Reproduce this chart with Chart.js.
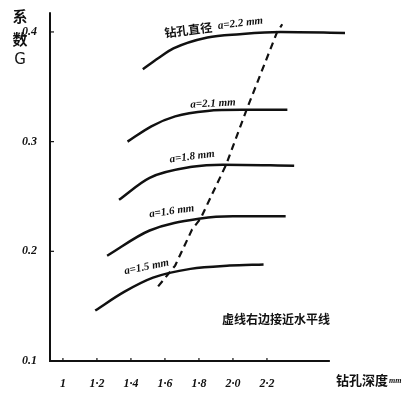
<!DOCTYPE html>
<html>
<head>
<meta charset="utf-8">
<script src="https://cdn.jsdelivr.net/npm/chart.js@4"></script>
<style>
  html, body { margin: 0; padding: 0; background: #fff; }
  #wrap { width: 405px; height: 393px; }
</style>
</head>
<body>
<div id="wrap"><canvas id="gChart"></canvas></div>
<script>
// tick labels
const xTicks = [1, 1.2, 1.4, 1.6, 1.8, 2.0, 2.2];
const xTickLabels = ["1", "1·2", "1·4", "1·6", "1·8", "2·0", "2·2"];
const yTicks = [0.1, 0.2, 0.3, 0.4];
const yTickLabels = ["0.1", "0.2", "0.3", "0.4"];

// curves: drilling depth (mm) vs coefficient G, one per drill diameter
const depth22 = [1.47, 1.56, 1.65, 1.85, 2.04, 2.28, 2.66];
const g22     = [0.366, 0.376, 0.385, 0.395, 0.398, 0.400, 0.399];
const depth21 = [1.38, 1.52, 1.66, 1.85, 2.05, 2.32];
const g21     = [0.300, 0.314, 0.323, 0.328, 0.329, 0.329];
const depth18 = [1.33, 1.51, 1.76, 1.94, 2.36];
const g18     = [0.247, 0.267, 0.277, 0.279, 0.278];
const depth16 = [1.26, 1.51, 1.81, 2.0, 2.31];
const g16     = [0.196, 0.219, 0.230, 0.232, 0.232];
const depth15 = [1.19, 1.36, 1.53, 1.75, 1.98, 2.18];
const g15     = [0.146, 0.163, 0.176, 0.184, 0.187, 0.188];

// dashed line through the knees
const depthDash = [1.56, 1.66, 1.76, 1.81, 1.96, 2.08, 2.26, 2.29];
const gDash     = [0.168, 0.187, 0.220, 0.230, 0.279, 0.329, 0.400, 0.407];

// curve labels: text, anchor depth, anchor G, rotation
const curveLabels = ["a=2.1 mm", "a=1.8 mm", "a=1.6 mm", "a=1.5 mm"];
const labelDepth = [1.75, 1.63, 1.51, 1.365];
const labelG = [0.331, 0.281, 0.231, 0.179];
const labelRot = [-0.05, -0.13, -0.14, -0.2];

function pts(xs, ys) {
  return xs.map((x, i) => ({ x: x, y: ys[i] }));
}

function curve(xs, ys) {
  return {
    data: pts(xs, ys),
    borderColor: "#111",
    borderWidth: 2.5,
    pointRadius: 0,
    cubicInterpolationMode: "monotone",
    fill: false
  };
}

const numFont = "italic bold 11px 'Liberation Serif'";
const cnFont = "bold 12px 'Noto Sans CJK SC'";

const decorPlugin = {
  id: "decor",
  afterDraw(chart) {
    const ctx = chart.ctx;
    const xs = chart.scales.x;
    const ys = chart.scales.y;
    const x0 = xs.getPixelForValue(xs.min);
    const y0 = ys.getPixelForValue(0.1);
    ctx.save();
    ctx.strokeStyle = "#111";
    ctx.fillStyle = "#111";

    // axes
    ctx.lineWidth = 2;
    ctx.beginPath();
    ctx.moveTo(x0, ys.getPixelForValue(ys.max));
    ctx.lineTo(x0, y0);
    ctx.lineTo(xs.getPixelForValue(2.57), y0);
    ctx.stroke();

    // small tick marks
    ctx.lineWidth = 1.2;
    yTicks.slice(1).forEach(v => {
      const p = ys.getPixelForValue(v);
      ctx.beginPath();
      ctx.moveTo(x0, p);
      ctx.lineTo(x0 + 4, p);
      ctx.stroke();
    });
    xTicks.forEach(v => {
      const p = xs.getPixelForValue(v);
      ctx.beginPath();
      ctx.moveTo(p, y0);
      ctx.lineTo(p, y0 - 3);
      ctx.stroke();
    });

    // y title, stacked
    ctx.font = "bold 15px 'Noto Sans CJK SC'";
    ctx.textAlign = "center";
    ctx.textBaseline = "middle";
    ctx.fillText("系", 20, 16);
    ctx.fillText("数", 20, 39);
    ctx.font = "15px 'DejaVu Sans'";
    ctx.fillText("G", 20, 60);

    // x title
    ctx.textAlign = "left";
    ctx.font = "bold 13px 'Noto Sans CJK SC'";
    ctx.fillText("钻孔深度", 336, 380);
    ctx.font = "italic bold 8px 'Liberation Serif'";
    ctx.fillText("mm", 389, 381);

    // top curve label
    ctx.save();
    ctx.translate(xs.getPixelForValue(1.6), ys.getPixelForValue(0.395));
    ctx.rotate(-0.12);
    ctx.textBaseline = "alphabetic";
    ctx.font = "bold 12px 'Noto Sans CJK SC'";
    ctx.fillText("钻孔直径", 0, 0);
    ctx.font = numFont;
    ctx.fillText("a=2.2 mm", 54, -2);
    ctx.restore();

    // other curve labels
    curveLabels.forEach((t, i) => {
      ctx.save();
      ctx.translate(xs.getPixelForValue(labelDepth[i]), ys.getPixelForValue(labelG[i]));
      ctx.rotate(labelRot[i]);
      ctx.textBaseline = "alphabetic";
      ctx.font = numFont;
      ctx.fillText(t, 0, 0);
      ctx.restore();
    });

    // note
    ctx.font = cnFont;
    ctx.textBaseline = "middle";
    ctx.fillText("虚线右边接近水平线", 222, 319);
    ctx.restore();
  }
};

new Chart(document.getElementById("gChart"), {
  type: "line",
  data: {
    datasets: [
      curve(depth22, g22),
      curve(depth21, g21),
      curve(depth18, g18),
      curve(depth16, g16),
      curve(depth15, g15),
      {
        data: pts(depthDash, gDash),
        borderColor: "#111",
        borderWidth: 2.2,
        borderDash: [7, 5],
        pointRadius: 0,
        tension: 0,
        fill: false
      }
    ]
  },
  options: {
    responsive: true,
    maintainAspectRatio: false,
    animation: false,
    layout: { padding: { left: 0, top: 10, right: 60, bottom: 0 } },
    plugins: { legend: { display: false }, tooltip: { enabled: false } },
    scales: {
      x: {
        type: "linear",
        min: 0.924,
        max: 2.659,
        grid: { display: false },
        border: { display: false },
        afterBuildTicks: axis => { axis.ticks = xTicks.map(v => ({ value: v })); },
        afterFit: axis => { axis.height = 32; },
        ticks: {
          padding: 8,
          color: "#111",
          font: { family: "Liberation Serif", size: 12, style: "italic", weight: "bold" },
          callback: v => xTickLabels[xTicks.indexOf(v)]
        }
      },
      y: {
        type: "linear",
        min: 0.1,
        max: 0.418,
        grid: { display: false },
        border: { display: false },
        afterBuildTicks: axis => { axis.ticks = yTicks.map(v => ({ value: v })); },
        afterFit: axis => { axis.width = 50; },
        ticks: {
          padding: 5,
          color: "#111",
          font: { family: "Liberation Serif", size: 12, style: "italic", weight: "bold" },
          callback: v => yTickLabels[yTicks.indexOf(v)]
        }
      }
    }
  },
  plugins: [decorPlugin]
});
</script>
</body>
</html>
